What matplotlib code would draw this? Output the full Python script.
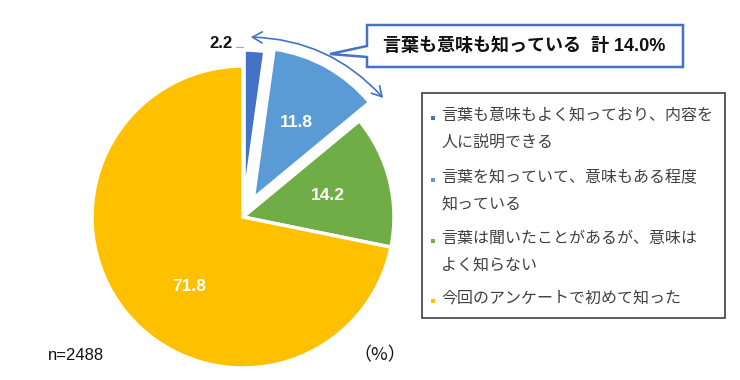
import matplotlib
matplotlib.use('Agg')
import matplotlib.pyplot as plt
from matplotlib.patches import Polygon, FancyArrowPatch, Rectangle
import numpy as np

plt.rcParams['font.family'] = ['Liberation Sans', 'Noto Sans CJK JP', 'DejaVu Sans']

# Data
categories = ['言葉も意味もよく知っており、内容を\n人に説明できる',
              '言葉を知っていて、意味もある程度\n知っている',
              '言葉は聞いたことがあるが、意味は\nよく知らない',
              '今回のアンケートで初めて知った']
values = [2.2, 11.8, 14.2, 71.8]
colors = ['#4472C4', '#5B9BD5', '#70AD47', '#FFC000']
callout_text = '言葉も意味も知っている  計 14.0%'
n_text = 'n=2488'

W, H = 740, 380
fig = plt.figure(figsize=(W / 100, H / 100), dpi=100)
ax = fig.add_axes([0, 0, 1, 1])

def Y(y):
    return H - y

cx, cy, r = 243, Y(217), 151
wedges, _ = ax.pie(values, colors=colors, startangle=90, counterclock=False,
                   center=(cx, cy), radius=r, explode=[16, 21, 0, 0],
                   wedgeprops=dict(edgecolor='white', linewidth=2.5), frame=True)
ax.set_xlim(0, W)
ax.set_ylim(0, H)
ax.set_aspect('equal')
ax.axis('off')

# value labels inside wedges
for i, w in enumerate(wedges):
    if i == 0:
        continue
    th = np.deg2rad((w.theta1 + w.theta2) / 2)
    wx, wy = w.center
    d = 0.58 * r
    if i == 3:
        th += np.deg2rad(13)
    ax.text(wx + d * np.cos(th), wy + d * np.sin(th), f'{values[i]:.1f}',
            color='white', fontsize=12.5, fontweight='bold', ha='center', va='center')

# small slice label outside with leader
ax.text(232, Y(43), f'{values[0]:.1f}', fontsize=12, fontweight='bold',
        ha='right', va='center', color='#111111')
ax.plot([236, 243], [Y(47), Y(47)], color='#A6A6A6', lw=0.8)

# double arrow arc
arc = FancyArrowPatch((248, Y(37)), (385, Y(100)), connectionstyle='arc3,rad=-0.22',
                      arrowstyle='<->,head_length=7,head_width=4', color='#4472C4',
                      lw=1.2)
ax.add_patch(arc)

# callout box
pts = [(367, 25), (683, 25), (683, 67), (367, 67), (367, 57), (330, 54), (367, 46)]
ax.add_patch(Polygon([(x, Y(y)) for x, y in pts], closed=True, facecolor='white',
                     edgecolor='#4472C4', lw=1.8))
ax.text(524, Y(46), callout_text, fontsize=13, fontweight='bold',
        ha='center', va='center', color='#111111')

# legend box
ax.add_patch(Rectangle((422, Y(318)), 303, 225, facecolor='white',
                       edgecolor='#404040', lw=1.2))
item_y = [108, 170, 231, 291]
for yy, c, lab in zip(item_y, colors, categories):
    ax.add_patch(Rectangle((431, Y(yy + 10) - 2), 4, 4, facecolor=c, edgecolor='none'))
    ax.text(441, Y(yy), lab, fontsize=11.5, color='#404040', ha='left', va='top',
            linespacing=2.0)

ax.text(48, Y(355), n_text, fontsize=12, ha='left', va='center', color='#111111')
ax.text(380, Y(355), '（%）', fontsize=13, ha='center', va='center', color='#111111',
        family=['Noto Sans CJK JP'])

fig.savefig('out.png', dpi=100)
